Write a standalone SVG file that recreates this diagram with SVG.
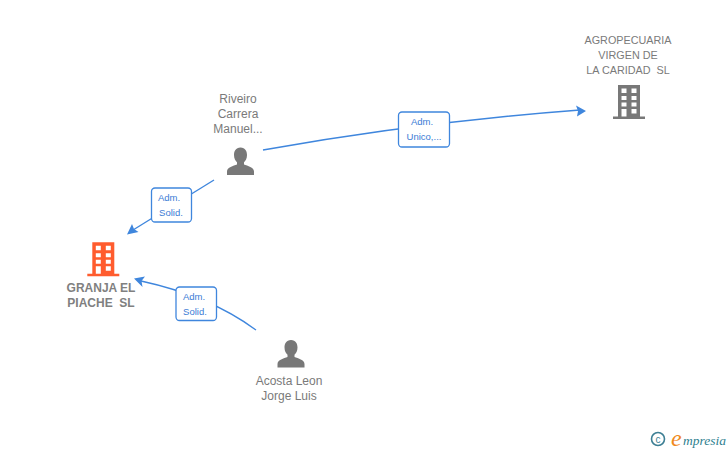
<svg xmlns="http://www.w3.org/2000/svg" width="728" height="450" viewBox="0 0 728 450">
<style>
text{font-family:"Liberation Sans",Arial,sans-serif;white-space:pre}
.n{font-size:12px;fill:#7a7a7a;text-anchor:middle}
.s{font-size:10.8px}
.b{font-weight:bold;fill:#808080}
.l{font-size:9.5px;fill:#3a7bd5;text-anchor:middle}
.c{fill:none;stroke:#3f86dd;stroke-width:1.4}
.box{fill:#fff;stroke:#3f86dd;stroke-width:1.3}
.a{fill:#3f86dd}
</style>
<defs>
<g id="bld"><path fill-rule="evenodd" d="M-11 -17H11V14.500H16V17H-16V14.500H-11ZM-7.500 -13.500V-9H-2.500V-13.500ZM2.500 -13.500V-9H7.500V-13.500ZM-7.500 -6V-2H-2.500V-6ZM2.500 -6V-2H7.500V-6ZM-7.500 0.500V4.500H-2.500V0.500ZM2.500 0.500V4.500H7.500V0.500ZM-7.500 7V14.500H-2.500V7ZM2.500 7V11.500H7.500V7Z"/></g>
<g id="per"><path d="M0 -14C-4.800 -14 -6.500 -10 -6.500 -6.500C-6.500 -3 -5 -0.500 -3.500 0.800V3C-7 4.500 -13.500 5.500 -13.500 10V13.500H13.500V10C13.500 5.500 7 4.500 3.500 3V0.800C5 -0.500 6.500 -3 6.500 -6.500C6.500 -10 4.800 -14 0 -14Z"/></g>
</defs>
<g id="connectors">
<path class="c" d="M263 150Q420 122 580 110"/><path class="a" d="M586 111L576 105.500L578 111L577 116.500Z"/>
<path class="c" d="M214 180L133 230"/><path class="a" d="M127 234.500L138.500 232L134 229L132 224Z"/>
<path class="c" d="M256 330Q210 296 141 281"/><path class="a" d="M134 278.500L142.500 287L141.500 281L145 276.500Z"/>
</g>
<g id="label1"><rect class="box" x="398.500" y="112" width="51" height="35" rx="3.500"/><text class="l" x="422" y="125">Adm.</text><text class="l" x="424" y="140">Unico,...</text></g>
<g id="label2"><rect class="box" x="151.500" y="188" width="40" height="34" rx="3.500"/><text class="l" x="169" y="201">Adm.</text><text class="l" x="171" y="216">Solid.</text></g>
<g id="label3"><rect class="box" x="176" y="287" width="40.500" height="33.500" rx="3.500"/><text class="l" x="194" y="300">Adm.</text><text class="l" x="195" y="315">Solid.</text></g>
<g id="node-agropecuaria"><text class="n s" x="628" y="44">AGROPECUARIA</text><text class="n s" x="628" y="59">VIRGEN DE</text><text class="n s" x="628" y="74">LA CARIDAD  SL</text><use href="#bld" x="629" y="102" fill="#787878"/></g>
<g id="node-riveiro"><text class="n" x="238" y="103">Riveiro</text><text class="n" x="238" y="118">Carrera</text><text class="n" x="238" y="133">Manuel...</text><use href="#per" x="240.500" y="161.500" fill="#787878"/></g>
<g id="node-granja"><use href="#bld" x="103.300" y="259.200" fill="#ff5c2e"/><text class="n b" x="101" y="292">GRANJA EL</text><text class="n b" x="101" y="307">PIACHE  SL</text></g>
<g id="node-acosta"><use href="#per" x="291" y="354" fill="#787878"/><text class="n" x="289" y="385">Acosta Leon</text><text class="n" x="289" y="400">Jorge Luis</text></g>
<g id="brand"><circle cx="658" cy="439" r="6.500" fill="none" stroke="#3d7f94" stroke-width="1.600"/><text x="658" y="442.500" font-size="10" text-anchor="middle" fill="#3d7f94">c</text><text x="671" y="446" font-size="24" font-style="italic" fill="#f08a1d" style="font-family:'Liberation Serif',serif">e</text><text x="683" y="445" font-size="13.500" font-style="italic" fill="#2f7f8f" style="font-family:'Liberation Serif',serif">mpresia</text></g>
</svg>
